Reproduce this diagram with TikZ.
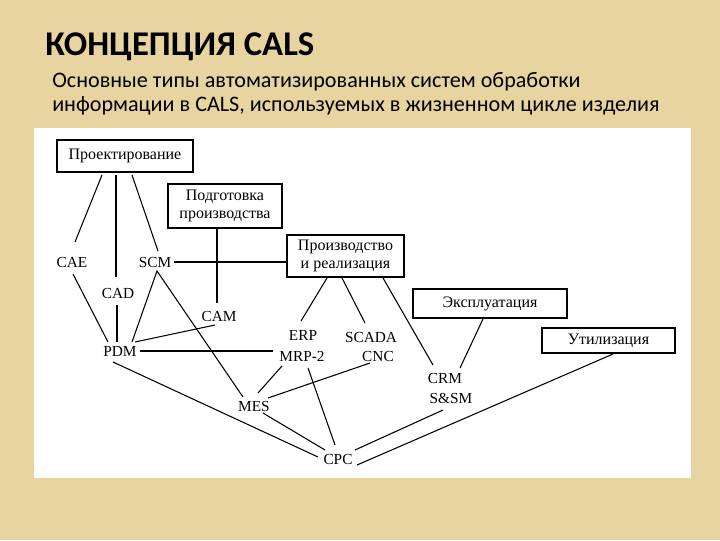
\documentclass[tikz,border=0pt]{standalone}
\usepackage{fontspec}
\setmainfont{Liberation Serif}
\newfontfamily\slidefont{Carlito}
\usetikzlibrary{calc}
\definecolor{parchment}{RGB}{231,212,160}
\tikzset{
  stagebox/.style={draw=black, line width=0.9pt, fill=white, inner sep=0pt, align=center, font=\fontsize{12}{13}\selectfont},
  lbl/.style={inner sep=0pt, font=\fontsize{11.5}{12}\selectfont},
  conn/.style={line width=0.8pt},
}
\begin{document}
\begin{tikzpicture}[x=0.75pt, y=-0.75pt]
\fill[parchment] (0,0) rectangle (720,540);
\useasboundingbox (0,0) rectangle (720,540);
\fill[white] (34,128) rectangle (691,478);

\node[anchor=base west, inner sep=0] (title) at (45,55) {\slidefont\fontsize{26}{28}\selectfont\bfseries КОНЦЕПЦИЯ CALS};
\node[anchor=base west, inner sep=0] (sub1) at (52,87) {\slidefont\fontsize{16.6}{18}\selectfont Основные типы автоматизированных систем обработки};
\node[anchor=base west, inner sep=0] (sub2) at (52,111) {\slidefont\fontsize{16.6}{18}\selectfont информации в CALS, используемых в жизненном цикле изделия};

% stage boxes
\node[stagebox, minimum width=136*0.75pt, minimum height=32*0.75pt] (proj) at (125,156) {Проектирование};
\node[stagebox, minimum width=114*0.75pt, minimum height=44*0.75pt] (podg) at (225,206) {Подготовка\\производства};
\node[stagebox, minimum width=117*0.75pt, minimum height=42*0.75pt] (proizv) at (345.5,256) {Производство\\и реализация};
\node[stagebox, minimum width=154*0.75pt, minimum height=29*0.75pt] (expl) at (490,303.5) {Эксплуатация};
\node[stagebox, line width=1.5pt, minimum width=133*0.75pt, minimum height=25*0.75pt] (util) at (608.5,340.5) {Утилизация};

% system labels
\node[lbl] (cae) at (72,262) {CAE};
\node[lbl] (scm) at (155,262) {SCM};
\node[lbl] (cad) at (118,293) {CAD};
\node[lbl] (cam) at (219,316) {CAM};
\node[lbl] (pdm) at (120,351) {PDM};
\node[lbl] (erp) at (303,335) {ERP};
\node[lbl] (mrp) at (302,356) {MRP-2};
\node[lbl] (scada) at (371,337) {SCADA};
\node[lbl] (cnc) at (378,356) {CNC};
\node[lbl] (mes) at (254,406) {MES};
\node[lbl] (cpc) at (338,459) {CPC};
\node[lbl] (crm) at (445,378) {CRM};
\node[lbl] (ssm) at (451,398) {S\&SM};
\coordinate (mrpw) at ($(mrp.west)+(-6,0)$);

% connectors
\draw[conn] ($(proj.center)+(-23,19)$) -- ($(cae.center)+(3,-20)$);
\draw[conn] ($(proj.center)+(-9,19)$) -- ($(cad.center)+(-2,-16)$);
\draw[conn] ($(proj.center)+(7,19)$) -- ($(scm.center)+(3,-11)$);
\draw[conn] ($(podg.center)+(-8,22)$) -- ($(cam.center)+(-2,-13)$);
\draw[conn] ($(scm.east)+(3,0)$) -- (scm -| proizv.west);
\draw[conn] ($(cae.center)+(1,12)$) -- ($(pdm.center)+(-12,-9)$);
\draw[conn] ($(cad.center)+(-1,12)$) -- ($(pdm.center)+(-3,-9)$);
\draw[conn] ($(pdm.center)+(12,-9)$) -- ($(scm.center)+(2,9)$) -- ($(mes.center)+(-11,-9)$);
\draw[conn] ($(cam.center)+(-4,9)$) -- ($(pdm.center)+(15,-9)$);
\draw[conn] ($(pdm.east)+(3,0)$) -- (mrpw |- pdm.east);
\draw[conn] ($(pdm.center)+(-7,11)$) -- ($(cpc.center)+(-20,-2)$);
\draw[conn] ($(mrp.center)+(-20,10)$) -- ($(mes.center)+(4,-13)$);
\draw[conn] ($(mrp.center)+(6,12)$) -- ($(cpc.center)+(-3,-14)$);
\draw[conn] ($(mes.center)+(9,7)$) -- ($(cpc.center)+(-13,-9)$);
\draw[conn] ($(cnc.center)+(-8,7)$) -- ($(mes.center)+(14,-8)$);
\draw[conn] ($(proizv.center)+(-18.5,22)$) -- ($(erp.center)+(-2,-14)$);
\draw[conn] ($(proizv.center)+(-3.5,22)$) -- ($(scada.center)+(-6,-14)$);
\draw[conn] ($(proizv.center)+(37.5,22)$) -- ($(crm.center)+(-12,-13)$);
\draw[conn] ($(expl.center)+(-7,15.5)$) -- ($(crm.center)+(15,-10)$);
\draw[conn] ($(ssm.center)+(-8,12)$) -- ($(cpc.center)+(17,-9)$);
\draw[conn] ($(util.center)+(4.5,13.5)$) -- ($(cpc.center)+(19,6)$);
\end{tikzpicture}
\end{document}
